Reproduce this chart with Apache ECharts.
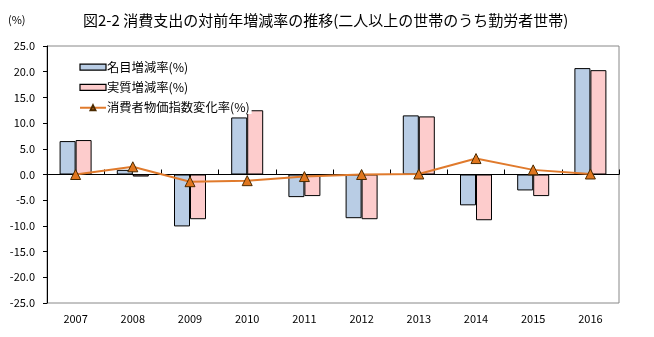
<!DOCTYPE html>
<html>
<head>
<meta charset="utf-8">
<script src="https://cdn.jsdelivr.net/npm/echarts@6/dist/echarts.min.js"></script>
<style>
  html, body { margin: 0; padding: 0; background: #fff; }
  #chart { width: 654px; height: 337px; }
</style>
</head>
<body>
<div id="chart"></div>
<script>
// 年次カテゴリ
const years = ['2007', '2008', '2009', '2010', '2011', '2012', '2013', '2014', '2015', '2016'];
// 名目増減率(%)
const nominal = [6.5, 0.9, -10.1, 11.1, -4.4, -8.5, 11.5, -6.0, -3.1, 20.7];
// 実質増減率(%)
const real = [6.7, -0.4, -8.7, 12.5, -4.2, -8.7, 11.3, -8.9, -4.2, 20.3];
// 消費者物価指数変化率(%)
const cpi = [0.0, 1.5, -1.4, -1.2, -0.4, 0.0, 0.1, 3.1, 0.9, 0.1];
// 縦軸目盛
const yMin = -25, yMax = 25, yStep = 5;

const seriesNames = ['名目増減率(%)', '実質増減率(%)', '消費者物価指数変化率(%)'];
const jpFont = '"Noto Sans CJK JP", "Noto Sans", sans-serif';

const chart = echarts.init(document.getElementById('chart'), null, { renderer: 'canvas' });
chart.setOption({
  animation: false,
  backgroundColor: '#fff',
  textStyle: { fontFamily: jpFont },
  title: {
    text: '図2-2 消費支出の対前年増減率の推移(二人以上の世帯のうち勤労者世帯)',
    left: 78, top: 8,
    textStyle: { fontSize: 15, fontWeight: 'normal', color: '#000', fontFamily: jpFont }
  },
  graphic: [{
    type: 'text', left: 8, top: 14,
    style: { text: '(%)', fontSize: 11, fill: '#000', fontFamily: jpFont }
  }],
  grid: {
    left: 47, right: 35, top: 46, bottom: 34,
    show: true, borderColor: '#888', borderWidth: 1, backgroundColor: 'transparent'
  },
  legend: {
    orient: 'vertical', left: 77, top: 59,
    itemWidth: 26, itemHeight: 6, itemGap: 8,
    padding: [2, 2, 0, 2],
    backgroundColor: '#fff',
    textStyle: { fontSize: 12.3, color: '#000', fontFamily: jpFont, padding: [0, 0, 0, -4] },
    data: [
      { name: seriesNames[0], icon: 'rect', itemStyle: { borderWidth: 1.2 } },
      { name: seriesNames[1], icon: 'rect', itemStyle: { borderWidth: 1.2 } },
      { name: seriesNames[2] }
    ]
  },
  xAxis: {
    type: 'category',
    data: years,
    axisLine: { onZero: true, lineStyle: { color: '#000', width: 1 } },
    axisTick: { show: true, inside: true, length: 5, lineStyle: { color: '#000' } },
    axisLabel: { fontSize: 11, color: '#000', fontFamily: jpFont, margin: 10 }
  },
  yAxis: {
    type: 'value',
    min: yMin, max: yMax, interval: yStep,
    axisLine: { show: true, lineStyle: { color: '#000' } },
    axisTick: { show: true, length: 4, lineStyle: { color: '#000' } },
    splitLine: { show: false },
    axisLabel: {
      fontSize: 11, color: '#000', fontFamily: jpFont, margin: 12,
      formatter: v => v.toFixed(1)
    }
  },
  series: [
    {
      name: seriesNames[0], type: 'bar', data: nominal,
      barWidth: 16, barGap: '0%',
      itemStyle: { color: '#b9cde5', borderColor: '#000', borderWidth: 1 },
      z: 2
    },
    {
      name: seriesNames[1], type: 'bar', data: real,
      barWidth: 16, barGap: '0%',
      itemStyle: { color: '#fdcccc', borderColor: '#000', borderWidth: 1 },
      z: 2
    },
    {
      name: seriesNames[2], type: 'line', data: cpi,
      symbol: 'triangle', symbolSize: 10,
      lineStyle: { color: '#e07a2c', width: 2 },
      itemStyle: { color: '#e0761e', borderColor: '#4a2a00', borderWidth: 1 },
      z: 5
    }
  ]
});
</script>
</body>
</html>
